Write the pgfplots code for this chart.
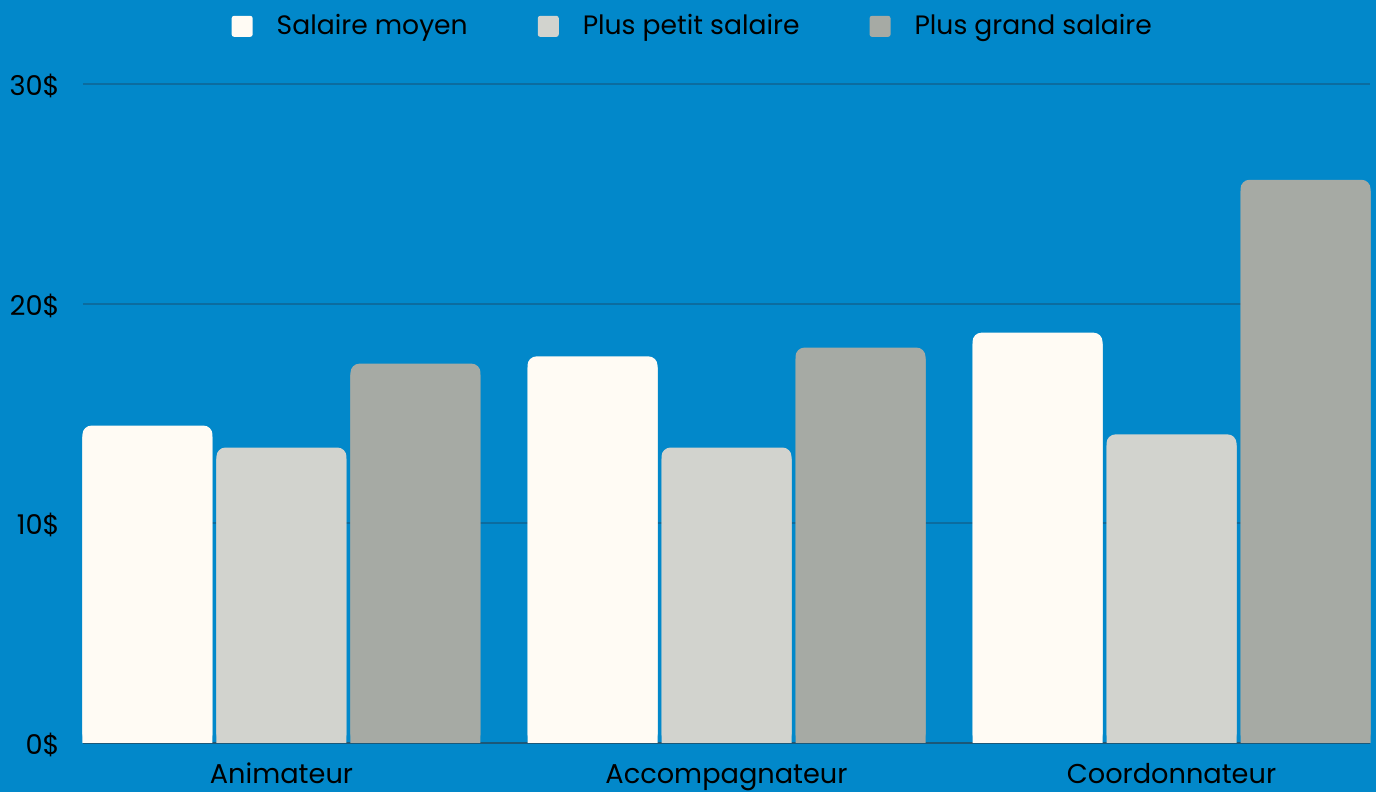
\documentclass[border=0pt]{standalone}
\usepackage{pgfplots}
\pgfplotsset{compat=1.18}
\usepackage{pgfplotstable}
\usepackage{fontspec}
\setmainfont{Poppins}
\definecolor{bg}{HTML}{0288CA}
\definecolor{gridc}{HTML}{0C6C9F}
\definecolor{basec}{HTML}{1C5878}
\definecolor{c1}{HTML}{FFFBF4}
\definecolor{c2}{HTML}{D2D3CE}
\definecolor{c3}{HTML}{A6AAA4}
% values in $
\pgfplotstableread{
x a b c
0 14.45 13.45 17.27
1 17.60 13.45 18.00
2 18.68 14.05 25.64
}\data
\pgfplotsset{
  sq/.style={legend image code/.code={\fill[#1, rounded corners=1.2pt] (0pt,-5.25pt) rectangle (10.5pt,5.25pt);}},
}
\begin{document}
\begin{tikzpicture}
\path[use as bounding box, fill=bg] (-41.5pt,-24.5pt) rectangle (646.5pt,371.5pt);
\begin{axis}[
  at={(0,0)}, anchor=south west,
  scale only axis, width=643.5pt, height=329.5pt,
  xmin=-0.446, xmax=2.446, ymin=0, ymax=30,
  clip=false,
  axis line style={draw=none},
  major tick length=0pt,
  xtick={0,1,2}, xticklabels={Animateur,Accompagnateur,Coordonnateur},
  ytick={10,20,30}, yticklabels={10\$,20\$,30\$},
  extra y ticks={0}, extra y tick labels={0\$},
  extra y tick style={grid style={basec, line width=1pt}},
  ymajorgrids, grid style={gridc, line width=1pt},
  tick label style={font=\fontsize{13.6}{16}\selectfont, text=black},
  yticklabel style={anchor=east, inner sep=0pt, xshift=-11.5pt, yshift=-1pt},
  xticklabel style={anchor=base, inner sep=0pt, yshift=-20.5pt},
  legend columns=3,
  legend style={at={(axis description cs:0.473,1.0875)}, anchor=center,
    draw=none, fill=none, inner sep=0pt,
    font=\fontsize{13.3}{16}\selectfont, text=black,
    nodes={inner sep=0pt},
    /tikz/every odd column/.append style={column sep=12pt},
    /tikz/every even column/.append style={column sep=35pt}},
]
% square lower parts (so that only the top corners of the bars are rounded)
\addplot[ybar, bar width=65pt, bar shift=-67pt, fill=c1, draw=none, forget plot] table[x=x,y expr=\thisrow{a}-0.5]{\data};
\addplot[ybar, bar width=65pt, bar shift=0pt, fill=c2, draw=none, forget plot] table[x=x,y expr=\thisrow{b}-0.5]{\data};
\addplot[ybar, bar width=65pt, bar shift=67pt, fill=c3, draw=none, forget plot] table[x=x,y expr=\thisrow{c}-0.5]{\data};
\addplot[ybar, bar width=65pt, bar shift=-67pt, fill=c1, draw=none, rounded corners=4.5pt, sq=c1] table[x=x,y=a]{\data};
\addlegendentry{Salaire moyen}
\addplot[ybar, bar width=65pt, bar shift=0pt, fill=c2, draw=none, rounded corners=4.5pt, sq=c2] table[x=x,y=b]{\data};
\addlegendentry{Plus petit salaire}
\addplot[ybar, bar width=65pt, bar shift=67pt, fill=c3, draw=none, rounded corners=4.5pt, sq=c3] table[x=x,y=c]{\data};
\addlegendentry{Plus grand salaire}
\end{axis}
\end{tikzpicture}
\end{document}
